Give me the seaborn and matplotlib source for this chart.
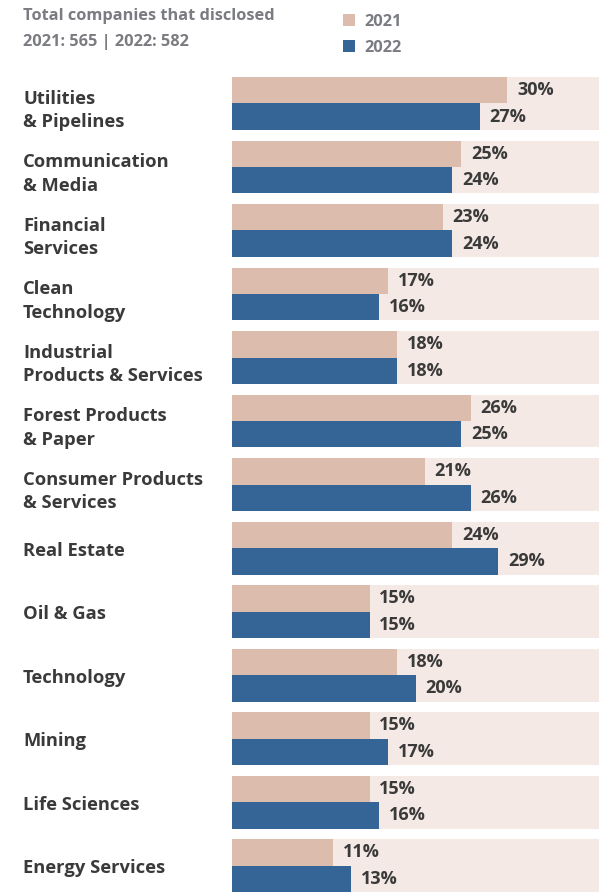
import matplotlib
matplotlib.use("Agg")
import matplotlib.pyplot as plt
from matplotlib.patches import Patch
import seaborn as sns
import pandas as pd

sectors = [
    "Utilities\n& Pipelines",
    "Communication\n& Media",
    "Financial\nServices",
    "Clean\nTechnology",
    "Industrial\nProducts & Services",
    "Forest Products\n& Paper",
    "Consumer Products\n& Services",
    "Real Estate",
    "Oil & Gas",
    "Technology",
    "Mining",
    "Life Sciences",
    "Energy Services",
]
pct_2021 = [30, 25, 23, 17, 18, 26, 21, 24, 15, 18, 15, 15, 11]
pct_2022 = [27, 24, 24, 16, 18, 25, 26, 29, 15, 20, 17, 16, 13]
years = ["2021", "2022"]
header_lines = ["Total companies that disclosed", "2021: 565 | 2022: 582"]
scale_max = 40

c2021 = "#dcbcac"
c2022 = "#356496"
c_panel = "#f4e9e4"
c_text = "#3a3a3a"
c_head = "#7b7c82"

df = pd.DataFrame({
    "sector": sectors * 2,
    "value": pct_2021 + pct_2022,
    "year": [years[0]] * len(sectors) + [years[1]] * len(sectors),
})

sns.set_theme(style="white")
plt.rcParams["font.family"] = ["Open Sans", "DejaVu Sans"]

fig = plt.figure(figsize=(6.02, 8.92), dpi=100)
ax = fig.add_axes([232 / 602, -2 / 892, 367 / 602, 817 / 892])

group_h = 0.833
# light track behind each pair of bars
ax.barh(range(len(sectors)), [scale_max] * len(sectors), height=group_h,
        color=c_panel, linewidth=0, zorder=0)

sns.barplot(data=df, y="sector", x="value", hue="year", orient="h",
            palette=[c2021, c2022], saturation=1, width=group_h,
            errorbar=None, legend=False, ax=ax, zorder=2, order=sectors,
            hue_order=years, linewidth=0)

for cont in ax.containers[1:]:
    ax.bar_label(cont, labels=[f"{v:.0f}%" for v in cont.datavalues],
                 padding=7, fontsize=13, fontweight="bold", color=c_text)

ax.set_xlim(0, scale_max)
ax.set_ylim(len(sectors) - 1 + group_h / 2 + 0.03, -group_h / 2)
ax.set_yticks([])
ax.set_xticks([])
ax.set_xlabel("")
ax.set_ylabel("")
for s in ax.spines.values():
    s.set_visible(False)

for i, name in enumerate(sectors):
    ax.text(-209 / 367, i + (0.11 if "\n" in name else 0.045), name,
            transform=ax.get_yaxis_transform(), ha="left", va="center",
            fontsize=13.2, fontweight="bold", color=c_text,
            linespacing=1.38)

fig.text(23 / 602, 1 - 16 / 892, header_lines[0], ha="left", va="center",
         fontsize=11.8, fontweight="bold", color=c_head)
fig.text(23 / 602, 1 - 42 / 892, header_lines[1], ha="left", va="center",
         fontsize=11.8, fontweight="bold", color=c_head)

handles = [Patch(facecolor=c2021, edgecolor="none", label=years[0]),
           Patch(facecolor=c2022, edgecolor="none", label=years[1])]
leg = fig.legend(handles=handles, loc="upper left",
                 bbox_to_anchor=(328 / 602, 1 + 1 / 892), frameon=False,
                 handlelength=0.72, handleheight=0.72, handletextpad=0.6,
                 labelspacing=0.62, fontsize=11.8, borderpad=0.4)
for t in leg.get_texts():
    t.set_color(c_head)
    t.set_fontweight("bold")

fig.savefig("out.png", dpi=100)
